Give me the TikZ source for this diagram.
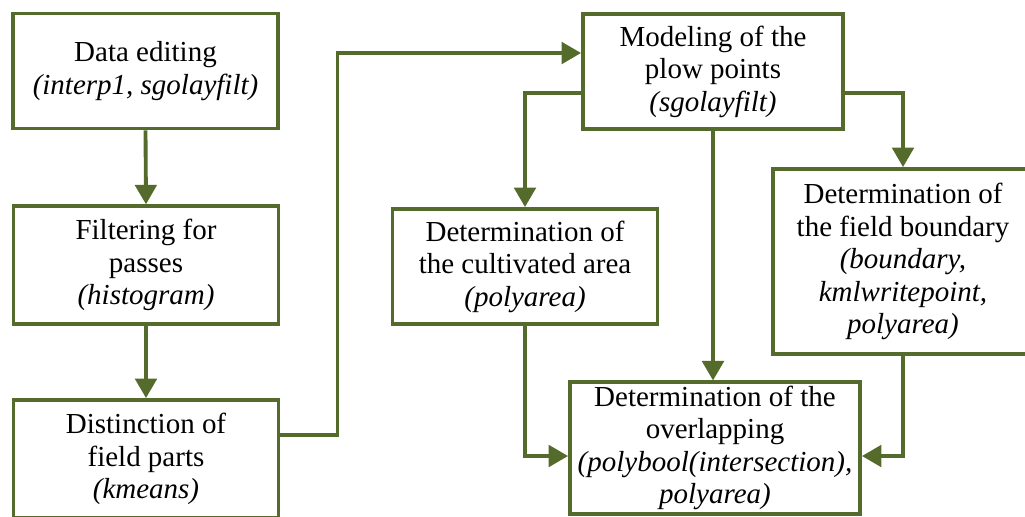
\documentclass[tikz,border=0pt]{standalone}
\usepackage{fontspec}
\setmainfont{Liberation Serif}
\usepackage{xcolor}
\usepackage{tikz}
\usetikzlibrary{arrows.meta}
\definecolor{olivegreen}{RGB}{84,107,43}

\begin{document}
\begin{tikzpicture}[
		stepbox/.style={draw=olivegreen, line width=2.2pt, fill=white, align=center,
			inner sep=2pt, font=\fontsize{16.5}{18.5}\selectfont},
		flow/.style={draw=olivegreen, line width=2.2pt,
			-{Triangle[length=3.9mm,width=4.3mm]}}]
		\useasboundingbox (0,0) rectangle (20.5,-10.32);
		
		% left column
		\node[stepbox, minimum width=5.3cm, minimum height=2.3cm] (data) at (2.91,-1.42)
			{Data editing\\ \textit{(interp1, sgolayfilt)}};
		\node[stepbox, minimum width=5.3cm, minimum height=2.35cm] (filter) at (2.92,-5.3)
			{Filtering for\\ passes\\ \textit{(histogram)}};
		\node[stepbox, minimum width=5.3cm, minimum height=2.36cm] (distinct) at (2.92,-9.18)
			{Distinction of\\ field parts\\ \textit{(kmeans)}};
		
		% right part
		\node[stepbox, minimum width=5.2cm, minimum height=2.3cm] (model) at (14.26,-1.43)
			{Modeling of the\\ plow points\\ \textit{(sgolayfilt)}};
		\node[stepbox, minimum width=5.3cm, minimum height=2.3cm] (cultiv) at (10.5,-5.33)
			{Determination of\\ the cultivated area\\ \textit{(polyarea)}};
		\node[stepbox, minimum width=5.2cm, minimum height=3.7cm] (bound) at (18.06,-5.23)
			{Determination of\\ the field boundary\\ \textit{(boundary,}\\ \textit{kmlwritepoint,}\\ \textit{polyarea)}};
		\node[stepbox, minimum width=5.8cm, minimum height=2.55cm] (overlap) at (14.3,-8.96)
			{Determination of the\\ overlapping\\ \textit{(polybool(intersection),}\\ \textit{polyarea)}};
		
		\draw[flow] (data.south) -- (filter.north);
		\draw[flow] (filter.south) -- (distinct.north);
		\draw[flow] ([yshift=4.8mm]distinct.east) -- ++(1.14,0) |- ([yshift=3.7mm]model.west);
		\draw[flow] ([yshift=-4.3mm]model.west) -| (cultiv.north);
		\draw[flow] ([yshift=-4.3mm]model.east) -| (bound.north);
		\draw[flow] (model.south) -- (model.south |- overlap.north);
		\draw[flow] (cultiv.south) |- ([yshift=-1.6mm]overlap.west);
		\draw[flow] (bound.south) |- ([yshift=-1.6mm]overlap.east);
	\end{tikzpicture}
\end{document}
